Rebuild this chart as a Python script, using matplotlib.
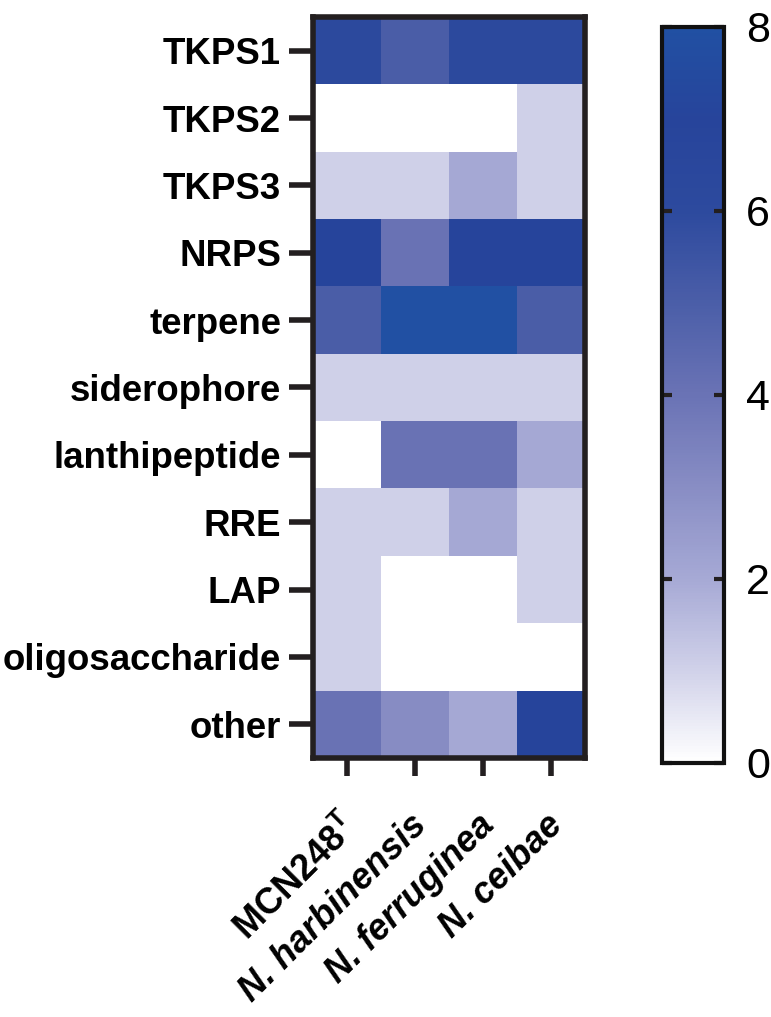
import numpy as np
import matplotlib
matplotlib.use("Agg")
import matplotlib.pyplot as plt
from matplotlib.colors import LinearSegmentedColormap
from matplotlib.transforms import ScaledTranslation

plt.rcParams["font.family"] = ["Liberation Sans", "DejaVu Sans"]
plt.rcParams["mathtext.fontset"] = "custom"
plt.rcParams["mathtext.rm"] = "Liberation Sans:bold"
plt.rcParams["mathtext.bf"] = "Liberation Sans:bold"

rows = ["TKPS1", "TKPS2", "TKPS3", "NRPS", "terpene", "siderophore",
        "lanthipeptide", "RRE", "LAP", "oligosaccharide", "other"]
strains = [r"MCN248$^{\mathbf{T}}$", "N. harbinensis", "N. ferruginea", "N. ceibae"]
italic = [False, True, True, True]

counts = np.array([
    [6, 5, 6, 6],
    [0, 0, 0, 1],
    [1, 1, 2, 1],
    [7, 4, 7, 7],
    [5, 8, 8, 5],
    [1, 1, 1, 1],
    [0, 4, 4, 2],
    [1, 1, 2, 1],
    [1, 0, 0, 1],
    [1, 0, 0, 0],
    [4, 3, 2, 7],
])
cbar_ticks = [0, 2, 4, 6, 8]

stops = ["#ffffff", "#d0d1e9", "#a6a9d5", "#888dc4", "#6a73b5",
         "#4b5ea8", "#2d4a9e", "#27449b", "#2150a3"]
cmap = LinearSegmentedColormap.from_list("gp", stops)

fig = plt.figure(figsize=(7.71, 10.17), dpi=100)
ax = fig.add_axes([313 / 771, 1 - 758 / 1017, 272 / 771, 741 / 1017])
im = ax.imshow(counts, cmap=cmap, vmin=0, vmax=8, aspect="auto",
               interpolation="nearest")

ax.set_yticks(range(len(rows)))
ax.set_yticklabels(rows, fontsize=26.4, fontweight="bold")
ax.set_xticks(range(len(strains)))
ax.set_xticklabels([])
ax.tick_params(axis="both", length=17, width=4, color="#231f20", pad=6)
ax.tick_params(axis="x", length=13)
for s in ax.spines.values():
    s.set_linewidth(4)
    s.set_color("#231f20")

# rotated column labels, top-right corner just under each tick
shift = ScaledTranslation(-6 / 100, -50 / 100, fig.dpi_scale_trans)
for i, (name, it) in enumerate(zip(strains, italic)):
    ax.text(i, 0, name, transform=ax.get_xaxis_transform() + shift,
            fontsize=26, fontweight="bold",
            fontstyle="italic" if it else "normal",
            rotation=45, ha="right", va="top", rotation_mode="anchor")

cax = fig.add_axes([662 / 771, 1 - 763 / 1017, 62 / 771, 736 / 1017])
cb = fig.colorbar(im, cax=cax, ticks=cbar_ticks)
cb.outline.set_linewidth(3)
cb.outline.set_edgecolor("#111111")
cax.tick_params(length=7, width=3, direction="in", left=True, right=True,
                labelsize=31, pad=16, color="#231f20")
cax.set_yticklabels([str(t) for t in cbar_ticks])

fig.savefig("out.png", dpi=100)
